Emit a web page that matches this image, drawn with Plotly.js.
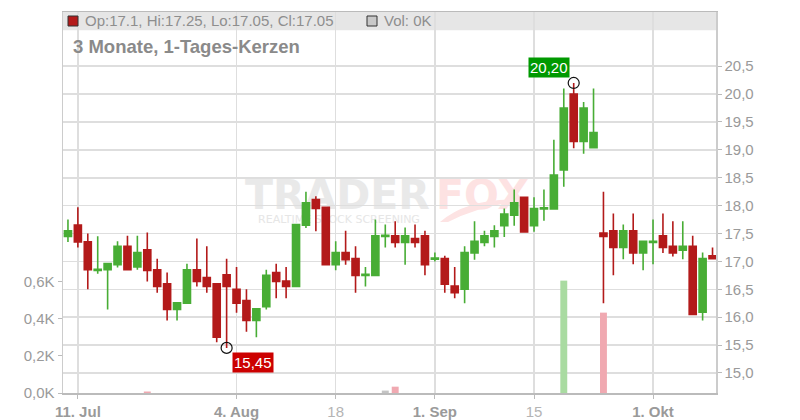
<!DOCTYPE html>
<html>
<head>
<meta charset="utf-8">
<script src="https://cdn.plot.ly/plotly-3.0.1.min.js"></script>
<style>html,body{margin:0;padding:0;background:#fff;}#chart{width:800px;height:420px;}</style>
</head>
<body>
<div id="chart"></div>
<script>
const dates = ['2025-07-10','2025-07-11','2025-07-14','2025-07-15','2025-07-16','2025-07-17','2025-07-18',
 '2025-07-21','2025-07-22','2025-07-23','2025-07-24','2025-07-25','2025-07-28','2025-07-29','2025-07-30',
 '2025-07-31','2025-08-01','2025-08-04','2025-08-05','2025-08-06','2025-08-07','2025-08-08','2025-08-11',
 '2025-08-12','2025-08-13','2025-08-14','2025-08-15','2025-08-18','2025-08-19','2025-08-20','2025-08-21',
 '2025-08-22','2025-08-25','2025-08-26','2025-08-27','2025-08-28','2025-08-29','2025-09-01','2025-09-02',
 '2025-09-03','2025-09-04','2025-09-05','2025-09-08','2025-09-09','2025-09-10','2025-09-11','2025-09-12',
 '2025-09-15','2025-09-16','2025-09-17','2025-09-18','2025-09-19','2025-09-22','2025-09-23','2025-09-24',
 '2025-09-25','2025-09-26','2025-09-29','2025-09-30','2025-10-01','2025-10-02','2025-10-03','2025-10-06',
 '2025-10-07','2025-10-08','2025-10-09'];
const openP = [17.45,17.65,17.35,16.84,16.85,16.94,17.27,16.90,17.21,16.85,16.60,16.14,16.25,16.85,16.71,16.60,16.76,
 16.50,16.30,15.94,16.19,16.80,16.65,16.55,17.65,18.11,17.97,16.94,17.16,17.05,16.75,16.75,17.45,17.46,17.34,17.41,
 17.46,17.04,17.05,16.56,16.50,17.15,17.34,17.45,17.64,17.83,18.15,17.64,17.94,17.94,18.64,20.00,19.15,19.04,17.51,
 17.55,17.25,17.55,17.15,17.34,17.46,17.27,17.20,17.27,16.09,17.10];
const highP = [17.75,17.97,17.50,17.45,16.97,17.36,17.46,17.46,17.52,17.05,16.80,16.26,16.96,17.41,17.27,16.60,17.05,
 16.90,16.50,16.15,16.85,16.96,16.90,17.66,18.25,18.17,17.97,17.36,17.55,17.27,16.90,17.75,17.66,17.72,17.61,17.66,
 17.55,17.16,17.10,16.90,17.27,17.72,17.55,17.65,17.95,18.29,18.15,18.15,18.29,19.18,20.10,20.20,19.86,20.10,18.25,
 17.86,17.66,17.86,17.36,17.75,17.86,17.72,17.72,17.46,17.16,17.25];
const lowP = [17.35,17.25,16.50,16.78,16.14,16.89,16.84,16.85,16.64,16.44,15.94,15.94,16.25,16.55,16.44,15.55,15.45,
 16.08,15.74,15.64,16.14,16.34,16.34,16.55,17.60,17.54,16.94,16.84,16.94,16.44,16.55,16.75,17.25,17.25,16.94,17.25,
 16.75,17.00,16.44,16.34,16.25,17.03,17.27,17.25,17.44,17.64,17.53,17.53,17.73,17.94,18.34,19.03,18.93,19.04,16.25,
 16.75,17.04,16.95,16.84,16.95,17.15,17.09,17.04,16.05,15.94,17.05];
const closeP = [17.55,17.35,16.85,16.86,16.96,17.27,16.85,17.16,16.84,16.55,16.14,16.26,16.85,16.64,16.55,15.64,16.55,
 16.25,15.94,16.15,16.75,16.64,16.55,17.66,18.05,17.95,16.94,17.16,17.03,16.75,16.77,17.46,17.47,17.34,17.46,17.34,
 16.94,17.06,16.59,16.44,17.16,17.36,17.46,17.55,17.85,18.05,17.53,17.95,17.96,18.55,19.75,19.15,19.75,19.31,17.45,
 17.25,17.55,17.15,17.36,17.36,17.25,17.15,17.27,16.05,17.05,17.05];
const volume = [0,0,0,0,0,0,0,0,8,0,0,0,0,0,0,0,0,0,0,0,0,0,0,0,0,0,0,0,0,0,0,0,13,34,0,0,0,0,0,0,0,0,0,0,0,0,0,0,0,0,
 604,0,0,0,432,0,0,0,0,0,0,0,0,0,0,0];
const tickDates = ['2025-07-11','2025-08-04','2025-08-18','2025-09-01','2025-09-15','2025-10-01'];
const tickLabels = ['11. Jul','4. Aug','18','1. Sep','15','1. Okt'];
const tickIsMonth = [true,true,false,true,false,true];
const priceTicks = [15.0,15.5,16.0,16.5,17.0,17.5,18.0,18.5,19.0,19.5,20.0,20.5];
const volTicks = [0,200,400,600];
const chartTitle = '3 Monate, 1-Tages-Kerzen';

const RED = '#b31a1a', GREEN = '#48ad35';
const fmt = v => v.toFixed(2).replace('.', ',');
const volColors = openP.map((o, i) => closeP[i] - o > 0.02 ? '#a9dba1' : (o - closeP[i] > 0.02 ? '#f0a9b1' : '#c4c4c4'));
const hiIdx = highP.indexOf(Math.max(...highP));
const loIdx = lowP.indexOf(Math.min(...lowP));
const n = dates.length - 1;

const traces = [
  {type:'bar', x:dates, y:volume, yaxis:'y', marker:{color:volColors, line:{width:0}}, hoverinfo:'skip'},
  {type:'candlestick', x:dates, open:openP, high:highP, low:lowP, close:closeP, yaxis:'y2',
   increasing:{line:{color:GREEN, width:1.6}, fillcolor:GREEN},
   decreasing:{line:{color:RED, width:1.6}, fillcolor:RED}, hoverinfo:'skip'},
  {type:'scatter', mode:'markers', x:[dates[hiIdx], dates[loIdx]], y:[highP[hiIdx], lowP[loIdx]], yaxis:'y2',
   marker:{symbol:'circle-open', size:11, color:'#111', line:{width:1.2, color:'#111'}}, hoverinfo:'skip'}
];

const px = v => (v - 63) / 653, py = v => (393 - v) / 381;
const wmFont = {family:'DejaVu Sans', size:41, weight:'bold'};
const layout = {
  width:800, height:420, margin:{l:63, r:84, t:12, b:27},
  paper_bgcolor:'#fff', plot_bgcolor:'#fff', showlegend:false, separators:',.',
  boxgap:0.29, boxgroupgap:0, bargap:0.3,
  font:{family:'Liberation Sans, Arial, sans-serif', color:'#999'},
  xaxis:{type:'category', range:[-0.5, 65.35], rangeslider:{visible:false},
    tickvals:tickDates,
    ticktext:tickLabels.map((t, i) => tickIsMonth[i] ? '<b>' + t + '</b>' : '<span style="color:#b4b4b4">' + t + '</span>'),
    tickfont:{size:15, color:'#9a9a9a'}, ticks:'outside', ticklen:4, tickcolor:'#bbb',
    showgrid:true, gridcolor:'#dedede', gridwidth:1.5,
    showline:true, linecolor:'#bbb', linewidth:1.5, mirror:true, zeroline:false, fixedrange:true},
  yaxis:{side:'left', range:[0, 2048], tickvals:volTicks,
    ticktext:volTicks.map(v => (v / 1000).toFixed(1).replace('.', ',') + 'K'),
    tickfont:{size:15, color:'#9a9a9a'}, ticks:'outside', ticklen:4, tickcolor:'#bbb',
    showgrid:false, zeroline:false, showline:true, linecolor:'#ccc', linewidth:1.5},
  yaxis2:{overlaying:'y', side:'right', range:[14.641, 21.472], tickvals:priceTicks, tickformat:'.1f',
    tickfont:{size:15, color:'#9a9a9a'}, ticks:'outside', ticklen:4, tickcolor:'#bbb',
    showgrid:true, gridcolor:'#dedede', gridwidth:1.5, zeroline:false,
    showline:true, linecolor:'#ccc', linewidth:1.5},
  shapes:[
    {type:'rect', xref:'paper', yref:'paper', x0:0, x1:1, y0:py(30.3), y1:1, layer:'below',
     fillcolor:'#e6e6e6', line:{width:0}},
    {type:'rect', xref:'paper', yref:'paper', x0:px(240), x1:px(435), y0:py(207), y1:py(177), layer:'between',
     fillcolor:'rgba(0,0,0,0)', line:{width:0},
     label:{text:'TRADER', font:Object.assign({color:'#e9e9e9'}, wmFont), textposition:'middle center'}},
    {type:'rect', xref:'paper', yref:'paper', x0:px(435), x1:px(530), y0:py(207), y1:py(177), layer:'between',
     fillcolor:'rgba(0,0,0,0)', line:{width:0},
     label:{text:'FOX', font:Object.assign({color:'#fde2e2'}, wmFont), textposition:'middle center'}},
    {type:'rect', xref:'paper', yref:'paper', x0:px(248), x1:px(430), y0:py(224), y1:py(212), layer:'between',
     fillcolor:'rgba(0,0,0,0)', line:{width:0},
     label:{text:'REALTIME STOCK SCREENING', font:{family:'DejaVu Sans', size:11, color:'#e6e6e6'}, textposition:'middle center'}},
    {type:'path', xref:'paper', yref:'paper', layer:'between', line:{width:0}, fillcolor:'#fde3e3',
     path:'M ' + px(440) + ',' + py(222) + ' Q ' + px(470) + ',' + py(196) + ' ' + px(528) + ',' + py(200) +
          ' Q ' + px(480) + ',' + py(205) + ' ' + px(448) + ',' + py(222) + ' Z'},
    {type:'rect', xref:'paper', yref:'paper', x0:px(68), x1:px(78), y0:py(26), y1:py(16), layer:'above',
     fillcolor:RED, line:{width:1, color:'#333'}},
    {type:'rect', xref:'paper', yref:'paper', x0:px(367), x1:px(377), y0:py(26), y1:py(16), layer:'above',
     fillcolor:'#c8c8c8', line:{width:1, color:'#333'}}
  ],
  annotations:[
    {xref:'paper', yref:'paper', x:px(83), y:py(21), xanchor:'left', yanchor:'middle', showarrow:false,
     text:'Op:' + openP[n] + ', Hi:' + highP[n] + ', Lo:' + lowP[n] + ', Cl:' + closeP[n],
     font:{size:15, color:'#8e8e8e'}},
    {xref:'paper', yref:'paper', x:px(382), y:py(21), xanchor:'left', yanchor:'middle', showarrow:false,
     text:'Vol: ' + Math.round(volume[n] / 1000) + 'K', font:{size:15, color:'#8e8e8e'}},
    {xref:'paper', yref:'paper', x:px(71), y:py(47), xanchor:'left', yanchor:'middle', showarrow:false,
     text:'<b>' + chartTitle + '</b>', font:{size:18.5, color:'#8a8a8a'}},
    {x:dates[hiIdx], y:highP[hiIdx], yref:'y2', showarrow:false, xanchor:'center', yanchor:'middle',
     xshift:-25, yshift:15, text:fmt(highP[hiIdx]), bgcolor:'#009900', borderpad:1,
     font:{size:15, color:'#fff'}},
    {x:dates[loIdx], y:lowP[loIdx], yref:'y2', showarrow:false, xanchor:'center', yanchor:'middle',
     xshift:26, yshift:-15, text:fmt(lowP[loIdx]), bgcolor:'#cc0000', borderpad:1,
     font:{size:15, color:'#fff'}}
  ]
};
Plotly.newPlot('chart', traces, layout, {staticPlot:true, displayModeBar:false});
</script>
</body>
</html>
